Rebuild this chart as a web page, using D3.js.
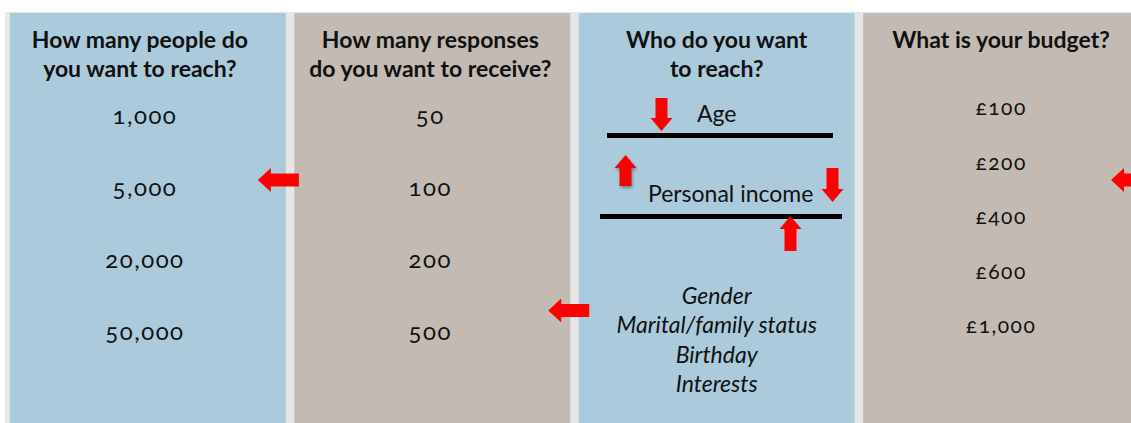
<!DOCTYPE html>
<html>
<head>
<meta charset="utf-8">
<script src="https://cdn.jsdelivr.net/npm/d3@7"></script>
<style>
  body { margin: 0; background: #fff; }
  svg { display: block; font-family: Lato, "Open Sans", sans-serif; }
  .num { font-variant-numeric: oldstyle-nums; }
</style>
</head>
<body>
<div id="chart"></div>
<script>
const panels = ['people', 'responses', 'who', 'budget']
const panelColors = ['#abcbdc', '#c3bbb3', '#abcbdc', '#c3bbb3']
const titles = [
    ['How many people do', 'you want to reach?'],
    ['How many responses', 'do you want to receive?'],
    ['Who do you want', 'to reach?'],
    ['What is your budget?']
]
const peopleOptions = ['1,000', '5,000', '20,000', '50,000']
const responseOptions = ['50', '100', '200', '500']
const budgetOptions = ['£100', '£200', '£400', '£600', '£1,000']
const targetFactors = ['Age', 'Personal income']
const otherTargets = ['Gender', 'Marital/family status', 'Birthday', 'Interests']
// left-pointing arrows: panel they start from, row slot, offset from the panel's right edge
const sideArrows = [
    { panel: 0, row: 1, back: 28 },
    { panel: 1, row: 2.7, back: 22 },
    { panel: 3, row: 1, back: 28 }
]

const width = 1131, height = 423

const svg = d3.select('#chart')
    .append('svg')
    .attr('width', width)
    .attr('height', height)

const x = d3.scaleBand()
    .domain(panels)
    .range([10, 1139])
    .paddingInner(0.03)

const rowY = d3.scaleLinear()
    .domain([0, 3])
    .range([116, 332])
const budgetY = d3.scaleLinear()
    .domain([0, 4])
    .range([108, 326])
const listY = d3.scaleLinear()
    .domain([0, 3])
    .range([296, 384])

const cx = p => x(p) + x.bandwidth() / 2

// frames and panels
svg.selectAll('rect.frame')
    .data(panels)
    .join('rect')
    .attr('class', 'frame')
    .attr('x', d => x(d) - 5)
    .attr('y', 12)
    .attr('width', x.bandwidth() + 10)
    .attr('height', height)
    .attr('fill', '#e6e6e6')

svg.selectAll('rect.panel')
    .data(panels)
    .join('rect')
    .attr('class', 'panel')
    .attr('x', d => x(d))
    .attr('y', 13)
    .attr('width', x.bandwidth())
    .attr('height', height)
    .attr('fill', (d, i) => panelColors[i])

// titles
const titleShift = [-8, -2, 0, 0]
panels.forEach((p, i) => {
    svg.append('text')
        .attr('text-anchor', 'middle')
        .attr('font-weight', 'bold')
        .attr('font-size', 23)
        .attr('fill', '#111')
        .selectAll('tspan')
        .data(titles[i])
        .join('tspan')
        .attr('x', cx(p) + titleShift[i])
        .attr('y', (d, j) => 48 + j * 29)
        .text(d => d)
})

const column = (p, values, yScale, size, shift) => svg.append('g')
    .selectAll('text')
    .data(values)
    .join('text')
    .attr('class', 'num')
    .attr('x', cx(p) + shift)
    .attr('y', (d, i) => yScale(i))
    .attr('dy', '0.35em')
    .attr('text-anchor', 'middle')
    .attr('font-size', size)
    .attr('letter-spacing', 1.5)
    .attr('fill', '#111')
    .text(d => d)

column('people', peopleOptions, rowY, 24, -3)
column('responses', responseOptions, rowY, 24, -2)
column('budget', budgetOptions, budgetY, 21, 0)

// who panel: factors with bars
const factorY = d3.scaleLinear().domain([0, 1]).range([114, 194])
const barY = d3.scaleLinear().domain([0, 1]).range([135.5, 216.5])
const barX = [[607, 833], [600, 842]]

svg.append('g')
    .selectAll('text')
    .data(targetFactors)
    .join('text')
    .attr('x', (d, i) => cx('who') + (i === 0 ? 0 : 14))
    .attr('y', (d, i) => factorY(i))
    .attr('dy', '0.35em')
    .attr('text-anchor', 'middle')
    .attr('font-size', 23)
    .attr('fill', '#111')
    .text(d => d)

svg.append('g')
    .selectAll('line')
    .data(targetFactors)
    .join('line')
    .attr('x1', (d, i) => barX[i][0])
    .attr('x2', (d, i) => barX[i][1])
    .attr('y1', (d, i) => barY(i))
    .attr('y2', (d, i) => barY(i))
    .attr('stroke', '#000')
    .attr('stroke-width', 5)

svg.append('g')
    .selectAll('text')
    .data(otherTargets)
    .join('text')
    .attr('x', cx('who'))
    .attr('y', (d, i) => listY(i))
    .attr('dy', '0.35em')
    .attr('text-anchor', 'middle')
    .attr('font-size', 23)
    .attr('font-style', 'italic')
    .attr('fill', '#111')
    .text(d => d)

// vertical arrows: tip x, tip y, direction (1 down, -1 up), length
const vArrows = [
    { x: 661.5, tip: 131, dir: 1, len: 33 },
    { x: 625.5, tip: 155, dir: -1, len: 31 },
    { x: 832.5, tip: 202, dir: 1, len: 34 },
    { x: 790.5, tip: 216, dir: -1, len: 35 }
]

const vPath = d => {
    const hw = 11, sw = 6, hl = 13
    const b = d.tip - d.dir * d.len, h = d.tip - d.dir * hl
    return `M${d.x},${d.tip} L${d.x - hw},${h} L${d.x - sw},${h} L${d.x - sw},${b} L${d.x + sw},${b} L${d.x + sw},${h} L${d.x + hw},${h} Z`
}

const defs = svg.append('defs')
defs.append('filter')
    .attr('id', 'shadow')
    .append('feDropShadow')
    .attr('dx', 1).attr('dy', 2).attr('stdDeviation', 1.5)
    .attr('flood-color', '#000').attr('flood-opacity', 0.35)

svg.append('g')
    .selectAll('path')
    .data(vArrows)
    .join('path')
    .attr('d', vPath)
    .attr('fill', '#ff0000')
    .attr('filter', (d, i) => i === 1 ? 'url(#shadow)' : null)

// horizontal arrows pointing left
const hPath = d => {
    const tx = x(panels[d.panel]) + x.bandwidth() - d.back
    const ty = rowY(d.row) - (d.panel === 1 ? 0 : 8)
    const len = 41, hw = 12, sw = 6.5, hl = 13
    return `M${tx},${ty} L${tx + hl},${ty - hw} L${tx + hl},${ty - sw} L${tx + len},${ty - sw} L${tx + len},${ty + sw} L${tx + hl},${ty + sw} L${tx + hl},${ty + hw} Z`
}

svg.append('g')
    .selectAll('path')
    .data(sideArrows)
    .join('path')
    .attr('d', hPath)
    .attr('fill', '#ff0000')
</script>
</body>
</html>
